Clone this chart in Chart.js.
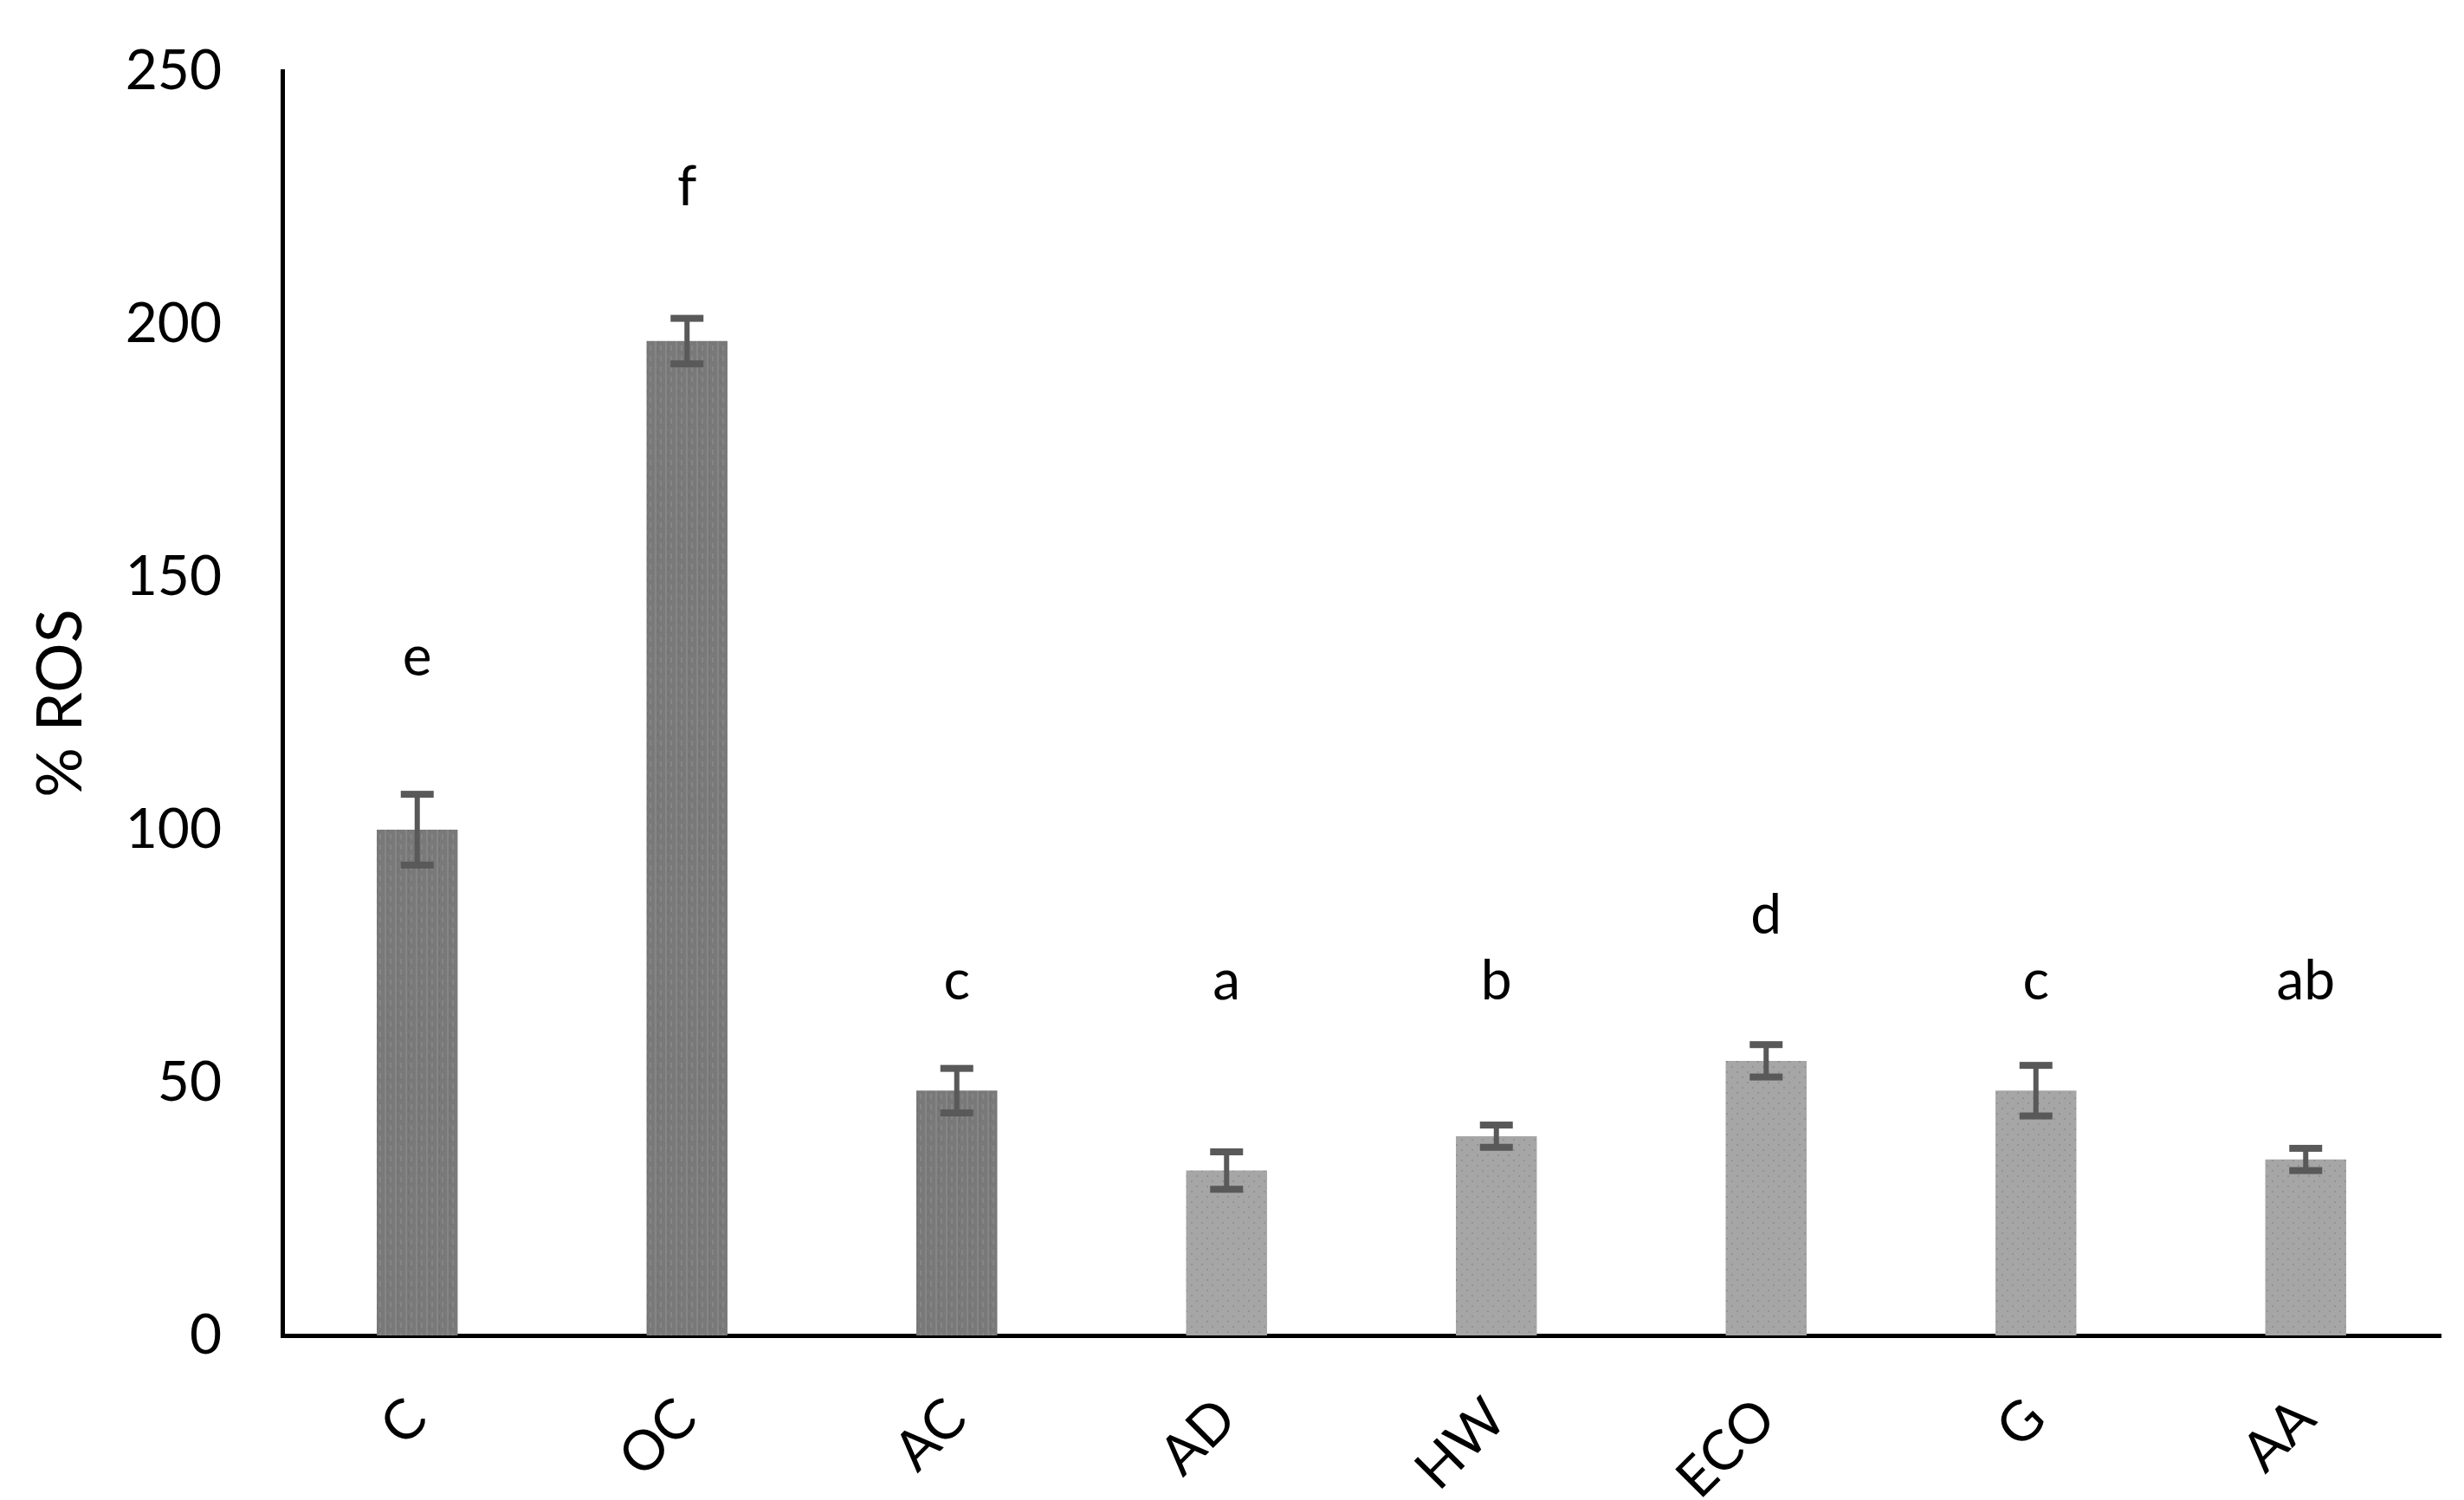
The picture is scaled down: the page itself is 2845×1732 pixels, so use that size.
<!DOCTYPE html>
<html><head><meta charset="utf-8">
<script src="https://cdn.jsdelivr.net/npm/chart.js@4"></script>
<style>html,body{margin:0;padding:0;background:#fff;overflow:hidden;} canvas{display:block;}</style>
</head><body><canvas id="c" width="2845" height="1732" style="width:2845px;height:1732px"></canvas>
<script>
const categories = ['C','OC','AC','AD','HW','ECO','G','AA'];
const rosValues = [100, 196.6, 48.4, 32.6, 39.4, 54.3, 48.4, 34.8];
const errorValues = [7, 4.5, 4.4, 3.7, 2.2, 3.2, 5, 2.2];
const letters = ['e','f','c','a','b','d','c','ab'];
const letterLevels = [134, 227, 70, 70, 70, 83, 70, 70];
const barGroup = [0, 0, 0, 1, 1, 1, 1, 1];
const yTickValues = [0, 50, 100, 150, 200, 250];

function makePattern(kind) {
  const c = document.createElement('canvas');
  const s = 12;
  c.width = s; c.height = s;
  const g = c.getContext('2d');
  if (kind === 0) {
    g.fillStyle = '#797979'; g.fillRect(0,0,s,s);
    g.fillStyle = '#858585';
    g.fillRect(0,0,2,s); g.fillRect(6,3,2,6);
    g.fillStyle = '#707070';
    g.fillRect(3,6,1,6);
  } else {
    g.fillStyle = '#a6a6a6'; g.fillRect(0,0,s,s);
    g.fillStyle = '#939393';
    g.fillRect(1,1,2,2); g.fillRect(7,7,2,2);
  }
  return g.createPattern(c, 'repeat');
}
const patterns = [makePattern(0), makePattern(1)];

const errorBarPlugin = {
  id: 'errorBars',
  afterDatasetsDraw(chart) {
    const ctx = chart.ctx;
    const meta = chart.getDatasetMeta(0);
    const y = chart.scales.y;
    ctx.save();
    ctx.fillStyle = '#595959';
    meta.data.forEach((bar, i) => {
      const v = rosValues[i], e = errorValues[i];
      const yt = y.getPixelForValue(v + e);
      const yb = y.getPixelForValue(v - e);
      const x = bar.x;
      const capW = 38, capH = 8, stem = 6;
      ctx.fillRect(x - stem/2, yt, stem, yb - yt);
      ctx.fillRect(x - capW/2, yt - capH/2, capW, capH);
      ctx.fillRect(x - capW/2, yb - capH/2, capW, capH);
    });
    ctx.restore();
  }
};

const letterPlugin = {
  id: 'letters',
  afterDatasetsDraw(chart) {
    const ctx = chart.ctx;
    const meta = chart.getDatasetMeta(0);
    const y = chart.scales.y;
    ctx.save();
    ctx.fillStyle = '#000';
    ctx.font = '64px Lato';
    ctx.textAlign = 'center';
    ctx.textBaseline = 'middle';
    meta.data.forEach((bar, i) => {
      ctx.fillText(letters[i], bar.x, y.getPixelForValue(letterLevels[i]));
    });
    ctx.restore();
  }
};

new Chart(document.getElementById('c'), {
  type: 'bar',
  data: {
    labels: categories,
    datasets: [{
      data: rosValues,
      backgroundColor: barGroup.map(g => patterns[g]),
      borderWidth: 0,
      barPercentage: 0.30,
      categoryPercentage: 1.0
    }]
  },
  options: {
    responsive: false,
    animation: false,
    devicePixelRatio: 1,
    layout: { padding: { top: 82, right: 27, left: 0, bottom: 0 } },
    plugins: { legend: { display: false }, tooltip: { enabled: false } },
    scales: {
      x: {
        grid: { display: false, drawTicks: false },
        border: { display: true, color: '#000', width: 5 },
        ticks: {
          color: '#000', font: { family: 'Lato', size: 64 },
          maxRotation: 45, minRotation: 45, padding: 58, autoSkip: false
        },
        afterFit(s) { s.height = 190; s.paddingTop = 0; s.paddingBottom = 0; }
      },
      y: {
        min: 0, max: 250,
        afterBuildTicks(s) { s.ticks = yTickValues.map(v => ({ value: v })); },
        grid: { display: false, drawTicks: false },
        border: { display: true, color: '#000', width: 5 },
        ticks: { color: '#000', font: { family: 'Lato', size: 64 }, padding: 70 },
        title: { display: true, text: '% ROS', color: '#000', font: { family: 'Lato', size: 72 }, padding: { top: 28, bottom: 0 } },
        afterFit(s) { s.width = 326; s.paddingTop = 0; s.paddingBottom = 0; }
      }
    }
  },
  plugins: [errorBarPlugin, letterPlugin]
});
</script>
</body></html>
